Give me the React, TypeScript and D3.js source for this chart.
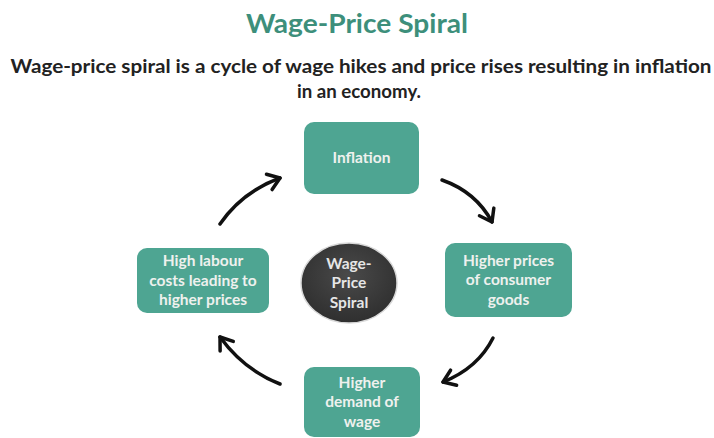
import React from "react";
import * as d3 from "d3";

const TITLE = "Wage-Price Spiral";
const SUBTITLE_LINES = [
  "Wage-price spiral is a cycle of wage hikes and price rises resulting in inflation",
  "in an economy.",
];
const CENTER_LABEL = ["Wage-", "Price", "Spiral"];
const STAGE_LABELS = [
  ["Inflation"],
  ["Higher prices", "of consumer", "goods"],
  ["Higher", "demand of", "wage"],
  ["High labour", "costs leading to", "higher prices"],
];

// layout (positions/sizes)
const BOXES = [
  { x: 304, y: 122, w: 115, h: 72 },
  { x: 445, y: 243, w: 127, h: 74 },
  { x: 304, y: 367, w: 116, h: 70 },
  { x: 137, y: 248, w: 132, h: 65 },
];
const ARROWS = [
  { s: [220, 224], c: [242, 192], e: [280, 178] },
  { s: [442, 180], c: [476, 192], e: [492, 222] },
  { s: [493, 338], c: [478, 368], e: [443, 382] },
  { s: [280, 384], c: [244, 370], e: [220, 337] },
];

const TEAL = "#4ea592";
const TITLE_TEAL = "#3d8f7b";
const FONT = "Lato, 'Open Sans', sans-serif";

function arrowPath(a: { s: number[]; c: number[]; e: number[] }) {
  const p = d3.path();
  p.moveTo(a.s[0], a.s[1]);
  p.quadraticCurveTo(a.c[0], a.c[1], a.e[0], a.e[1]);
  return p.toString();
}

function headPath(a: { s: number[]; c: number[]; e: number[] }) {
  const ang = Math.atan2(a.e[1] - a.c[1], a.e[0] - a.c[0]);
  const len = 14;
  const spread = 0.62;
  const p = d3.path();
  p.moveTo(a.e[0] - len * Math.cos(ang - spread), a.e[1] - len * Math.sin(ang - spread));
  p.lineTo(a.e[0], a.e[1]);
  p.lineTo(a.e[0] - len * Math.cos(ang + spread), a.e[1] - len * Math.sin(ang + spread));
  return p.toString();
}

export default function App() {
  const W = 714, H = 438;
  const lh = 19.5;
  return (
    <svg width={W} height={H} style={{ position: "absolute", left: 0, top: 0, background: "#fff" }}>
      <defs>
        <radialGradient id="cg" cx="50%" cy="40%" r="60%">
          <stop offset="0%" stopColor="#4a4a4a" />
          <stop offset="100%" stopColor="#2f2f2f" />
        </radialGradient>
      </defs>
      <rect width={W} height={H} fill="#fff" />
      <text x={357} y={33} textAnchor="middle" fontFamily={FONT} fontWeight={700} fontSize={27}
        fill={TITLE_TEAL} textLength={222} lengthAdjust="spacingAndGlyphs">{TITLE}</text>
      <text x={361} y={73} textAnchor="middle" fontFamily={FONT} fontWeight={700} fontSize={19}
        fill="#222" textLength={701} lengthAdjust="spacingAndGlyphs">{SUBTITLE_LINES[0]}</text>
      <text x={359} y={98} textAnchor="middle" fontFamily={FONT} fontWeight={700} fontSize={19}
        fill="#222" textLength={124} lengthAdjust="spacingAndGlyphs">{SUBTITLE_LINES[1]}</text>

      {STAGE_LABELS.map((lines, i) => {
        const b = BOXES[i];
        const cx = b.x + b.w / 2;
        const cy = b.y + b.h / 2;
        const y0 = cy - ((lines.length - 1) * lh) / 2 + 5;
        return (
          <g key={i}>
            <rect x={b.x} y={b.y} width={b.w} height={b.h} rx={10} fill={TEAL} />
            {lines.map((t, j) => (
              <text key={j} x={cx} y={y0 + j * lh} textAnchor="middle" fontFamily={FONT}
                fontWeight={700} fontSize={15.5} fill="#eef1ee">{t}</text>
            ))}
          </g>
        );
      })}

      <ellipse cx={349} cy={283} rx={48} ry={40} fill="url(#cg)" stroke="#d8d8d8" strokeWidth={1.5} />
      {CENTER_LABEL.map((t, j) => (
        <text key={j} x={349} y={283 - lh + 5 + j * lh} textAnchor="middle" fontFamily={FONT}
          fontWeight={700} fontSize={15.5} fill="#e6e6e6">{t}</text>
      ))}

      {ARROWS.map((a, i) => (
        <g key={i} fill="none" stroke="#111" strokeWidth={3.5} strokeLinecap="round" strokeLinejoin="round">
          <path d={arrowPath(a)} />
          <path d={headPath(a)} />
        </g>
      ))}
    </svg>
  );
}
